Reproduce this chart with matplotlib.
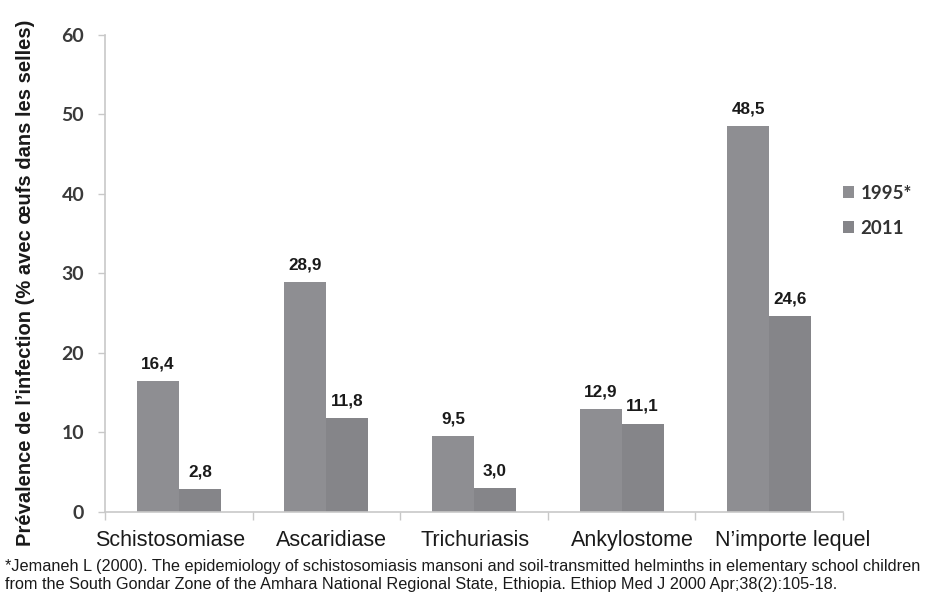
import numpy as np
import matplotlib.pyplot as plt
from matplotlib.transforms import ScaledTranslation

categories = ["Schistosomiase", "Ascaridiase", "Trichuriasis", "Ankylostome", "N\u2019importe lequel"]
prev_1995 = [16.4, 28.9, 9.5, 12.9, 48.5]
prev_2011 = [2.8, 11.8, 3.0, 11.1, 24.6]
series_names = ["1995*", "2011"]
yticks = [0, 10, 20, 30, 40, 50, 60]

col_1995 = "#8e8e92"
col_2011 = "#858589"
axis_col = "#c8c8c8"

fig = plt.figure(figsize=(9.27, 6.11), dpi=100)
ax = fig.add_axes([0.1133, 0.1625, 0.7961, 0.7802])

x = np.arange(len(categories))
w = 0.285
b1 = ax.bar(x - w / 2, prev_1995, w, color=col_1995, label=series_names[0])
b2 = ax.bar(x + w / 2, prev_2011, w, color=col_2011, label=series_names[1])

# value labels, comma decimal
for bars, vals in ((b1, prev_1995), (b2, prev_2011)):
    for r, v in zip(bars, vals):
        ax.annotate(f"{v:.1f}".replace(".", ","),
                    (r.get_x() + r.get_width() / 2, v),
                    xytext=(0, 7), textcoords="offset points",
                    ha="center", va="bottom", fontsize=12.3,
                    fontweight="bold", family="Liberation Sans", color="#1a1a1a")

ax.set_xlim(-0.5, len(categories) - 0.5)
ax.set_ylim(0, 60)
ax.set_yticks(yticks)
ax.set_yticklabels([str(t) for t in yticks], family="Lato", fontsize=14,
                   fontweight="bold", color="#3a3a3a")

# category ticks sit on the group boundaries
ax.set_xticks(np.arange(-0.5, len(categories), 1.0))
ax.set_xticklabels([])
ax.set_xticks(x, minor=True)
ax.set_xticklabels(categories, minor=True, family="Liberation Sans",
                   fontsize=15.5, color="#1a1a1a")
ax.tick_params(axis="x", which="major", length=6, color=axis_col, width=1)
ax.tick_params(axis="x", which="minor", length=0, pad=13)
ax.tick_params(axis="y", length=5, color=axis_col, width=1, pad=10)

# the category labels spread a little wider than the groups
shifts_px = [-9, 5, 1, 11, 23]
for lab, dx in zip(ax.get_xticklabels(minor=True), shifts_px):
    lab.set_transform(lab.get_transform() + ScaledTranslation(dx / 100, 0, fig.dpi_scale_trans))

for s in ("top", "right"):
    ax.spines[s].set_visible(False)
for s in ("left", "bottom"):
    ax.spines[s].set_color(axis_col)
    ax.spines[s].set_linewidth(1.2)

fig.text(0.028, 0.537, "Pr\u00e9valence de l\u2019infection (% avec \u0153ufs dans les selles)",
         rotation=90, ha="center", va="center", fontsize=14.5,
         fontweight="bold", family="Liberation Sans", color="#1a1a1a")

leg = fig.legend(handles=[b1, b2], labels=series_names, loc="upper left",
                 bbox_to_anchor=(0.891, 0.725), frameon=False,
                 handlelength=0.6, handleheight=0.6, handletextpad=0.35,
                 labelspacing=0.95, prop={"family": "Lato", "weight": "bold", "size": 13.5})
for t in leg.get_texts():
    t.set_color("#333333")

fig.text(0.005, 0.058,
         "*Jemaneh L (2000). The epidemiology of schistosomiasis mansoni and soil-transmitted helminths in elementary school children\n"
         "from the South Gondar Zone of the Amhara National Regional State, Ethiopia. Ethiop Med J 2000 Apr;38(2):105-18.",
         ha="left", va="center", fontsize=11.7, linespacing=1.2,
         family="Liberation Sans", color="#1a1a1a")

fig.savefig("out.png", dpi=100)
